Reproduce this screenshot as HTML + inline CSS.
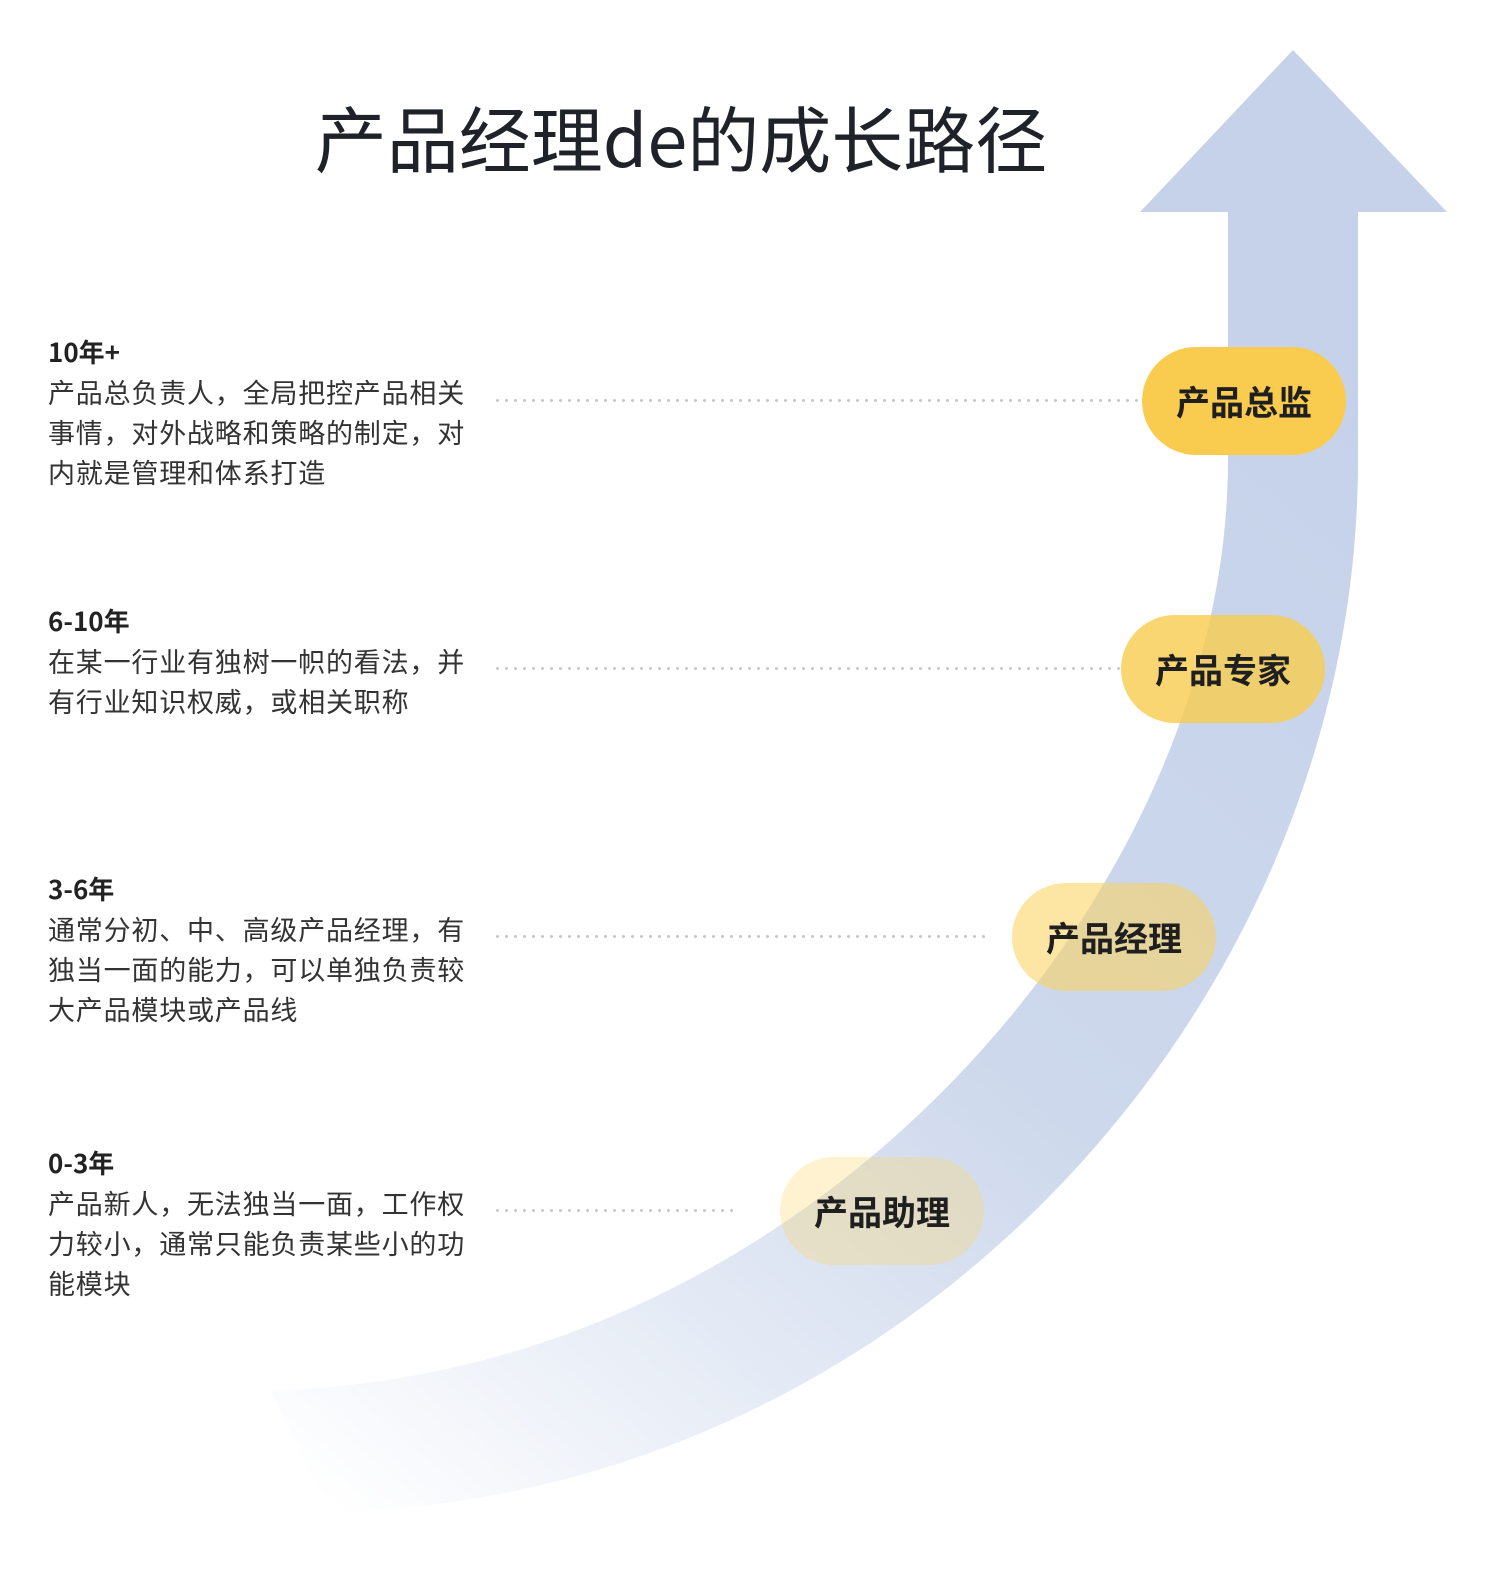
<!DOCTYPE html>
<html><head><meta charset="utf-8">
<style>
html,body{margin:0;padding:0;background:#fff;}
body{width:1508px;height:1578px;position:relative;overflow:hidden;font-family:"Noto Sans CJK SC","Liberation Sans",sans-serif;color:#222;}
.title{position:absolute;left:0;width:1362px;top:88px;text-align:center;font-size:72px;line-height:96px;color:#1f2329;}
.blk{position:absolute;left:48px;width:430px;font-size:27px;letter-spacing:0.8px;line-height:40px;color:#333;}
.blk b{display:block;font-size:26px;letter-spacing:0;color:#222;}
.dot{position:absolute;height:3px;background-image:radial-gradient(circle,#c9c9c9 1.4px,transparent 1.6px);background-size:9px 3px;background-repeat:repeat-x;}
.pill{position:absolute;width:204px;height:108px;border-radius:54px;text-align:center;line-height:108px;font-size:34px;font-weight:bold;color:#1f1f1f;}
svg{position:absolute;left:0;top:0;}
</style></head><body>
<svg width="1508" height="1578">
<defs><linearGradient id="g" x1="1300" y1="300" x2="300" y2="1480" gradientUnits="userSpaceOnUse">
<stop offset="0" stop-color="#c5d2ea"/><stop offset="0.5" stop-color="#cdd8ec"/><stop offset="1" stop-color="#c5d2ea" stop-opacity="0"/></linearGradient></defs>
<path d="M1293,50 L1447,212 L1358,212 L1358,460 C1358,1010 900,1500 330,1512 L270,1390 C800,1380 1228,900 1228,460 L1228,212 L1140,212 Z" fill="url(#g)"/>
</svg>
<div class="title">产品经理de的成长路径</div>

<div class="blk" style="top:332px"><b>10年+</b>产品总负责人，全局把控产品相关事情，对外战略和策略的制定，对内就是管理和体系打造</div>
<div class="blk" style="top:601px"><b>6-10年</b>在某一行业有独树一帜的看法，并有行业知识权威，或相关职称</div>
<div class="blk" style="top:869px"><b>3-6年</b>通常分初、中、高级产品经理，有独当一面的能力，可以单独负责较大产品模块或产品线</div>
<div class="blk" style="top:1143px"><b>0-3年</b>产品新人，无法独当一面，工作权力较小，通常只能负责某些小的功能模块</div>

<div class="dot" style="left:493px;top:399px;width:647px"></div>
<div class="dot" style="left:493px;top:667px;width:627px"></div>
<div class="dot" style="left:493px;top:935px;width:492px"></div>
<div class="dot" style="left:493px;top:1209px;width:244px"></div>

<div class="pill" style="left:1142px;top:347px;background:#f9cc4f">产品总监</div>
<div class="pill" style="left:1121px;top:615px;background:rgba(249,204,79,.8)">产品专家</div>
<div class="pill" style="left:1012px;top:883px;background:rgba(251,210,90,.55)">产品经理</div>
<div class="pill" style="left:780px;top:1157px;background:rgba(251,215,110,.32)">产品助理</div>
</body></html>
